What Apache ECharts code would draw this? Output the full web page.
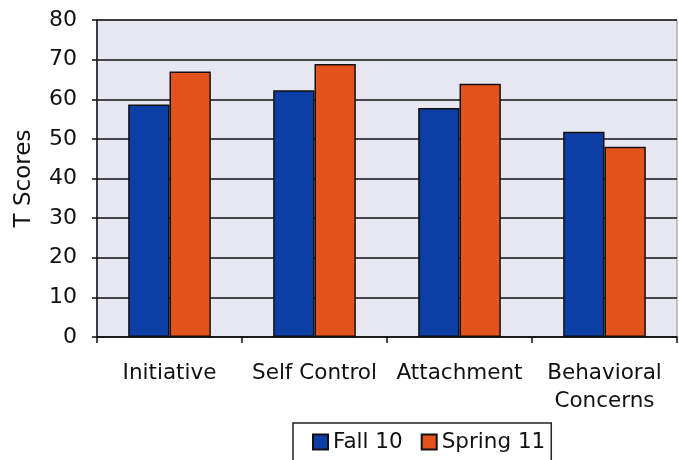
<!DOCTYPE html>
<html>
<head>
<meta charset="utf-8">
<script src="https://cdn.jsdelivr.net/npm/echarts@6/dist/echarts.min.js"></script>
<style>
  html, body { margin: 0; padding: 0; background: #fff; }
  #chart { width: 679px; height: 460px; }
</style>
</head>
<body>
<div id="chart"></div>
<script>
const categories = ['Initiative', 'Self Control', 'Attachment', 'Behavioral\nConcerns'];
const fall10 = [58.7, 62.3, 57.8, 51.8];
const spring11 = [67.0, 68.9, 63.9, 48.0];
const seriesNames = ['Fall 10', 'Spring 11'];

const font = 'DejaVu Sans';

let option = {
    animation: false,
    grid: {
        left: 97,
        right: 2,
        top: 20,
        bottom: 123,
        show: true,
        backgroundColor: '#e7e7f1',
        borderColor: '#8a8a8a',
        borderWidth: 1
    },
    legend: {
        data: seriesNames,
        left: 293,
        top: 423,
        icon: 'rect',
        itemWidth: 15,
        itemHeight: 15,
        itemGap: 18,
        padding: [8, 6, 14, 19],
        backgroundColor: '#fff',
        borderColor: '#222',
        borderWidth: 1.5,
        textStyle: {
            fontFamily: font,
            fontSize: 21.5,
            color: '#111',
            padding: [0, 0, 0, 0]
        }
    },
    xAxis: {
        type: 'category',
        data: categories,
        axisLine: { lineStyle: { color: '#111', width: 1.5 } },
        axisTick: { show: true, interval: 0, length: 6, lineStyle: { color: '#111', width: 1.5 } },
        axisLabel: {
            interval: 0,
            fontFamily: font,
            fontSize: 21.5,
            color: '#111',
            margin: 22,
            lineHeight: 28
        },
        splitLine: { show: false }
    },
    yAxis: {
        type: 'value',
        min: 0,
        max: 80,
        interval: 10,
        name: 'T Scores',
        nameLocation: 'middle',
        nameGap: 61,
        nameTextStyle: { fontFamily: font, fontSize: 23, color: '#111' },
        axisLine: { show: true, lineStyle: { color: '#111', width: 1.5 } },
        axisTick: { show: true, length: 5, lineStyle: { color: '#111', width: 1.5 } },
        axisLabel: { fontFamily: font, fontSize: 22, color: '#111', margin: 20 },
        splitLine: { lineStyle: { color: '#111', width: 1.5 } }
    },
    series: [{
        name: seriesNames[0],
        type: 'bar',
        data: fall10,
        barGap: '0%',
        barCategoryGap: '43%',
        itemStyle: { color: '#0c3ea6', borderColor: '#111', borderWidth: 1.5 }
    }, {
        name: seriesNames[1],
        type: 'bar',
        data: spring11,
        itemStyle: { color: '#e4531c', borderColor: '#111', borderWidth: 1.5 }
    }]
};

let myChart = echarts.init(document.getElementById('chart'));
myChart.setOption(option);
</script>
</body>
</html>
